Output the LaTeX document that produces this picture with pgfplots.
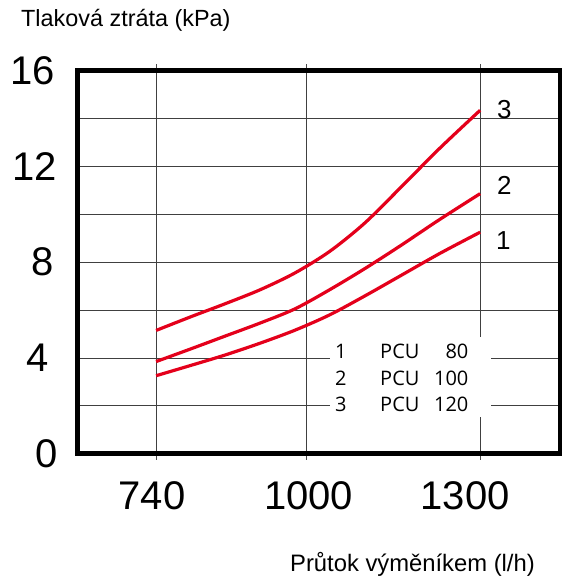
\documentclass[border=0pt]{standalone}
\usepackage{pgfplots}
\pgfplotsset{compat=1.18}
\usepackage{fontspec}
\setmainfont{Liberation Sans}
\newfontfamily\legendfont{Open Sans}
\definecolor{curvered}{RGB}{228,0,27}
\begin{document}
\begin{tikzpicture}
\begin{axis}[
  scale only axis,
  width=482pt, height=383.3pt,
  at={(0pt,0pt)}, anchor=south west,
  xmin=605, xmax=1438,
  ymin=0, ymax=16,
  xtick={740,1000,1300},
  xticklabels={{740\hspace*{8pt}},{\hspace*{4pt}1000},{1300\hspace*{30pt}}},
  ytick={0,4,8,12,16},
  yticklabels={{0},{4\hspace*{9pt}},{8\hspace*{4pt}},{12\hspace*{1pt}},{16\hspace*{3pt}}},
  minor ytick={2,6,10,14},
  xmajorgrids, ymajorgrids, yminorgrids,
  major grid style={draw=black!75, line width=0.8pt},
  minor grid style={draw=black!75, line width=0.8pt},
  tick align=outside,
  major tick length=6pt,
  minor tick length=0pt,
  xtick style={draw=black!70, line width=0.8pt},
  ytick style={draw=none},
  minor tick style={draw=none},
  axis line style={line width=5pt, line join=miter},
  /pgf/number format/assume math mode=true,
  xticklabel style={font=\fontsize{40}{46}\selectfont, anchor=base, inner sep=0pt, yshift=-50pt},
  yticklabel style={font=\fontsize{40}{46}\selectfont, anchor=east, inner sep=0pt, xshift=-14pt},
  clip=false,
]
% white background of the legend (interrupts the grid)
\fill[white] (axis cs:1041,1.54) rectangle (axis cs:1318,4.89);

% curve 1: PCU 80
\addplot[curvered, line width=3.2pt, smooth] coordinates {
(740,3.26) (800,3.69) (860,4.13) (920,4.62) (980,5.16) (1040,5.80)
(1100,6.58) (1160,7.40) (1230,8.36) (1300,9.25)};
% curve 2: PCU 100
\addplot[curvered, line width=3.2pt, smooth] coordinates {
(740,3.85) (800,4.38) (860,4.92) (920,5.46) (980,6.05) (1040,6.85)
(1100,7.72) (1160,8.65) (1230,9.78) (1300,10.86)};
% curve 3: PCU 120
\addplot[curvered, line width=3.2pt, smooth] coordinates {
(740,5.15) (800,5.72) (860,6.27) (920,6.85) (980,7.55) (1040,8.45)
(1100,9.62) (1160,11.05) (1230,12.75) (1300,14.34)};

% curve labels
\node[font=\fontsize{26}{30}\selectfont, inner sep=0pt] at (axis cs:1342,14.38) {3};
\node[font=\fontsize{26}{30}\selectfont, inner sep=0pt] at (axis cs:1342,11.21) {2};
\node[font=\fontsize{26}{30}\selectfont, inner sep=0pt] at (axis cs:1340,8.89) {1};

% legend
\node[font=\legendfont\fontsize{20}{24}\selectfont, anchor=base west, inner sep=0pt] at (axis cs:1049,3.975) {1};
\node[font=\legendfont\fontsize{20}{24}\selectfont, anchor=base west, inner sep=0pt] at (axis cs:1049,2.858) {2};
\node[font=\legendfont\fontsize{20}{24}\selectfont, anchor=base west, inner sep=0pt] at (axis cs:1049,1.782) {3};
\node[font=\legendfont\fontsize{20}{24}\selectfont, anchor=base west, inner sep=0pt] at (axis cs:1127,3.975) {PCU};
\node[font=\legendfont\fontsize{20}{24}\selectfont, anchor=base west, inner sep=0pt] at (axis cs:1127,2.858) {PCU};
\node[font=\legendfont\fontsize{20}{24}\selectfont, anchor=base west, inner sep=0pt] at (axis cs:1127,1.782) {PCU};
\node[font=\legendfont\fontsize{20}{24}\selectfont, anchor=base east, inner sep=0pt] at (axis cs:1280,3.975) {80};
\node[font=\legendfont\fontsize{20}{24}\selectfont, anchor=base east, inner sep=0pt] at (axis cs:1280,2.858) {100};
\node[font=\legendfont\fontsize{20}{24}\selectfont, anchor=base east, inner sep=0pt] at (axis cs:1280,1.782) {120};
\end{axis}
% axis titles
\node[font=\fontsize{23.4}{27}\selectfont, anchor=base west, inner sep=0pt] at (-57pt,426.8pt) {Tlaková ztráta (kPa)};
\node[font=\fontsize{23.8}{27}\selectfont, anchor=base east, inner sep=0pt] at (457pt,-118pt) {Průtok výměníkem (l/h)};
\pgfresetboundingbox
\path[use as bounding box] (-78pt,-122.2pt) rectangle (484pt,453.8pt);
\end{tikzpicture}
\end{document}
